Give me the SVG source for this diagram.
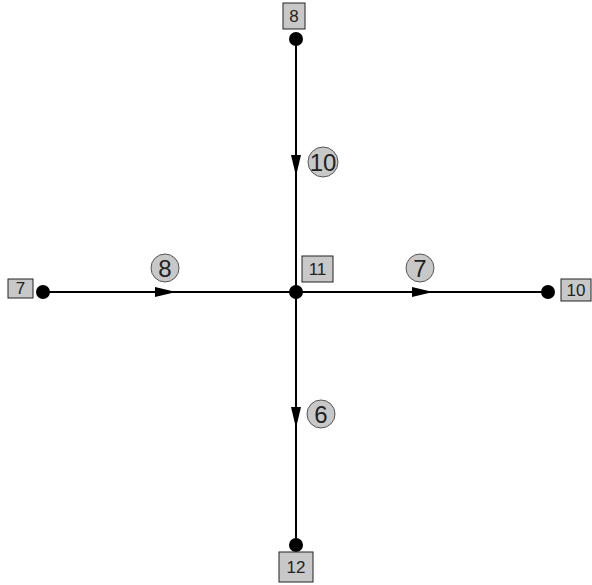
<svg xmlns="http://www.w3.org/2000/svg" width="592" height="585" viewBox="0 0 592 585">
<defs>
<style>
.box{fill:#c8c8c8;stroke:#222;stroke-width:1}
.bt{font-family:"Liberation Sans",Arial,sans-serif;font-size:17px;fill:#222;text-anchor:middle;dominant-baseline:central}
.dot{fill:#000}
.edge{stroke:#000;stroke-width:2;fill:none}
.arr{fill:#000}
.lc{fill:#c8c8c8;stroke:#555;stroke-width:1}
.lt{font-family:"Liberation Sans",Arial,sans-serif;font-size:24px;fill:#222;text-anchor:middle;dominant-baseline:central}
</style>
</defs>
<rect width="592" height="585" fill="#fff"/>
<g id="connectors">
<line class="edge" x1="296" y1="39" x2="296" y2="292"/>
<line class="edge" x1="43" y1="292" x2="296" y2="292"/>
<line class="edge" x1="296" y1="292" x2="548" y2="292"/>
<line class="edge" x1="296" y1="292" x2="296" y2="545"/>
<polygon class="arr" points="291,155 301,155 296,176"/>
<polygon class="arr" points="155,287 155,297 176,292"/>
<polygon class="arr" points="412,287 412,297 433,292"/>
<polygon class="arr" points="291,407 301,407 296,428"/>
<g id="label-10"><circle class="lc" cx="323" cy="162" r="15"/><text class="lt" x="323" y="162">10</text></g>
<g id="label-8"><circle class="lc" cx="165" cy="268" r="14"/><text class="lt" x="165" y="268">8</text></g>
<g id="label-7"><circle class="lc" cx="420" cy="268" r="14"/><text class="lt" x="420" y="268">7</text></g>
<g id="label-6"><circle class="lc" cx="321" cy="414" r="14"/><text class="lt" x="321" y="414">6</text></g>
</g>
<g id="node-8"><circle class="dot" cx="296" cy="39" r="7"/><rect class="box" x="283" y="3" width="22" height="26"/><text class="bt" x="294" y="16">8</text></g>
<g id="node-7"><circle class="dot" cx="43" cy="292" r="7"/><rect class="box" x="8" y="279" width="25" height="19"/><text class="bt" x="20.5" y="288.5">7</text></g>
<g id="node-11"><circle class="dot" cx="296" cy="292" r="7"/><rect class="box" x="302" y="256" width="31" height="26"/><text class="bt" x="317.5" y="269">11</text></g>
<g id="node-10"><circle class="dot" cx="548" cy="292" r="7"/><rect class="box" x="561" y="279" width="30" height="22"/><text class="bt" x="576" y="290">10</text></g>
<g id="node-12"><circle class="dot" cx="296" cy="545" r="7"/><rect class="box" x="279" y="552" width="34" height="30"/><text class="bt" x="296" y="567">12</text></g>
</svg>
